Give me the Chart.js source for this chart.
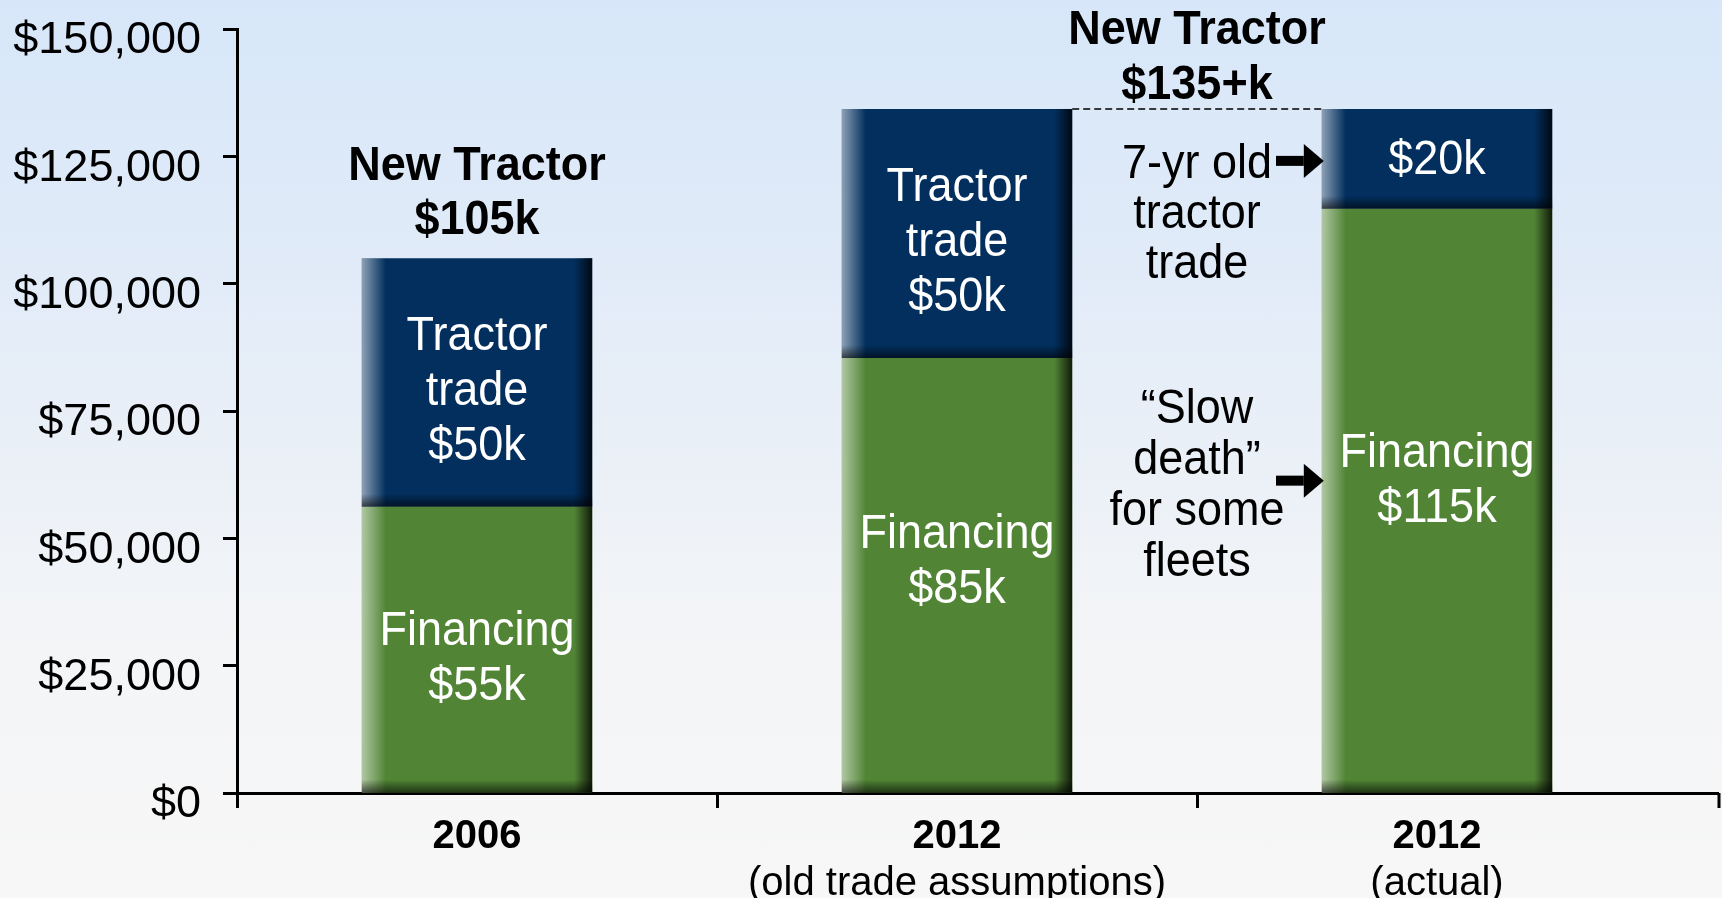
<!DOCTYPE html>
<html>
<head>
<meta charset="utf-8">
<script src="https://cdn.jsdelivr.net/npm/chart.js@4.4.1/dist/chart.umd.min.js"></script>
<style>
  html, body { margin: 0; padding: 0; }
  body {
    width: 1722px; height: 898px; overflow: hidden;
    background: linear-gradient(to bottom, #d7e7f9 0%, #e1ebf8 30%, #ecf1f7 55%, #f4f5f7 72%, #f7f7f7 100%);
  }
  canvas { display: block; }
</style>
</head>
<body>
<canvas id="chart" width="1722" height="898"></canvas>
<script>
// values (dollars)
const categories = ["2006", "2012", "2012"];
const subLabels = ["", "(old trade assumptions)", "(actual)"];
const financing = [56200, 85400, 114700];
const tractorTrade = [48800, 48900, 19600];

// text written on / around the bars
const financingText = [["Financing", "$55k"], ["Financing", "$85k"], ["Financing", "$115k"]];
const tradeText = [["Tractor", "trade", "$50k"], ["Tractor", "trade", "$50k"], ["$20k"]];
const oldTitle = ["New Tractor", "$105k"];
const newTitle = ["New Tractor", "$135+k"];
const oldTradeNote = ["7-yr old", "tractor", "trade"];
const slowDeathNote = ["\u201cSlow", "death\u201d", "for some", "fleets"];

const GREEN = "#518535";
const NAVY = "#022f5e";
const FAMILY = "'Liberation Sans', Arial, sans-serif";
Chart.defaults.font.family = FAMILY;

// slide text is a touch taller than it is wide, so stretch it a little
function drawLines(ctx, lines, x, cy, lh, font, color) {
  ctx.save();
  ctx.font = font;
  ctx.fillStyle = color;
  ctx.textAlign = "center";
  ctx.textBaseline = "middle";
  const y0 = cy - (lines.length - 1) * lh / 2 + 4;
  lines.forEach((t, i) => {
    ctx.save();
    ctx.translate(x, y0 + i * lh);
    ctx.scale(1, 1.07);
    ctx.fillText(t, 0, 0);
    ctx.restore();
  });
  ctx.restore();
}

function drawArrow(ctx, x0, x1, y) {
  ctx.save();
  ctx.fillStyle = "#000";
  ctx.fillRect(x0, y - 5, x1 - x0 - 20, 10);
  ctx.beginPath();
  ctx.moveTo(x1 - 20, y - 17);
  ctx.lineTo(x1, y);
  ctx.lineTo(x1 - 20, y + 17);
  ctx.closePath();
  ctx.fill();
  ctx.restore();
}

// soft 3d look on the bars: light left edge, dark right and bottom edges
const barShade = {
  id: "barShade",
  afterDatasetsDraw(chart) {
    const ctx = chart.ctx;
    chart.data.datasets.forEach((ds, i) => {
      chart.getDatasetMeta(i).data.forEach((bar) => {
        const l = bar.x - bar.width / 2;
        const r = bar.x + bar.width / 2;
        const top = Math.min(bar.y, bar.base);
        const bot = Math.max(bar.y, bar.base);
        const h = bot - top;
        ctx.save();
        let g = ctx.createLinearGradient(l, 0, l + 24, 0);
        g.addColorStop(0, "rgba(255,255,255,0.55)");
        g.addColorStop(1, "rgba(255,255,255,0)");
        ctx.fillStyle = g;
        ctx.fillRect(l, top, 24, h);
        g = ctx.createLinearGradient(r - 18, 0, r, 0);
        g.addColorStop(0, "rgba(0,0,0,0)");
        g.addColorStop(1, "rgba(0,0,0,0.8)");
        ctx.fillStyle = g;
        ctx.fillRect(r - 18, top, 18, h);
        g = ctx.createLinearGradient(0, bot - 13, 0, bot);
        g.addColorStop(0, "rgba(0,0,0,0)");
        g.addColorStop(1, "rgba(0,0,0,0.6)");
        ctx.fillStyle = g;
        ctx.fillRect(l, bot - 13, r - l, 13);
        ctx.restore();
      });
    });
  },
};

const notes = {
  id: "notes",
  afterDraw(chart) {
    const ctx = chart.ctx;
    const ca = chart.chartArea;
    const fin = chart.getDatasetMeta(0).data;
    const trd = chart.getDatasetMeta(1).data;
    const regular = "45px " + FAMILY;
    const bold = "bold 45px " + FAMILY;
    // where the text block sits inside each segment, as a share of its height from the top
    const finAt = [0.52, 0.46, 0.46];
    const trdAt = [0.52, 0.52, 0.48];

    // x axis runs on past the last category, like the original slide
    const endX = chart.width - 3;
    ctx.save();
    ctx.strokeStyle = "#000";
    ctx.lineWidth = 3;
    ctx.beginPath();
    ctx.moveTo(ca.right - 2, ca.bottom + 0.5);
    ctx.lineTo(endX, ca.bottom + 0.5);
    ctx.moveTo(endX, ca.bottom);
    ctx.lineTo(endX, ca.bottom + 15);
    ctx.stroke();
    ctx.restore();

    fin.forEach((b, i) => drawLines(ctx, financingText[i], b.x, b.y + finAt[i] * (b.base - b.y), 55, regular, "#fff"));
    trd.forEach((b, i) => drawLines(ctx, tradeText[i], b.x, b.y + trdAt[i] * (b.base - b.y), 55, regular, "#fff"));

    // 2006 total
    drawLines(ctx, oldTitle, trd[0].x, trd[0].y - 68, 54, bold, "#000");

    // 2012 total sits between the two 2012 bars
    const leftEdge = trd[1].x + trd[1].width / 2;
    const rightEdge = trd[2].x - trd[2].width / 2;
    const mid = (leftEdge + rightEdge) / 2;
    drawLines(ctx, newTitle, mid, trd[2].y - 55, 55, bold, "#000");

    ctx.save();
    ctx.strokeStyle = "#000";
    ctx.lineWidth = 1.5;
    ctx.setLineDash([7, 4]);
    ctx.beginPath();
    ctx.moveTo(leftEdge, trd[2].y);
    ctx.lineTo(rightEdge, trd[2].y);
    ctx.stroke();
    ctx.restore();

    const tradeY = (trd[2].y + trd[2].base) / 2 + 2;
    drawLines(ctx, oldTradeNote, mid, tradeY + 50, 50, regular, "#000");
    drawArrow(ctx, mid + 79, rightEdge + 2, tradeY);

    const finY = (fin[2].y + fin[2].base) / 2 - 20;
    drawLines(ctx, slowDeathNote, mid, finY + 2, 51, regular, "#000");
    drawArrow(ctx, mid + 79, rightEdge + 2, finY);
  },
};

new Chart(document.getElementById("chart"), {
  type: "bar",
  data: {
    labels: categories,
    datasets: [
      {
        label: "Financing",
        data: financing,
        backgroundColor: GREEN,
        borderWidth: 0,
        barPercentage: 0.48,
        categoryPercentage: 1,
      },
      {
        label: "Tractor trade",
        data: tractorTrade,
        backgroundColor: NAVY,
        borderWidth: 0,
        barPercentage: 0.48,
        categoryPercentage: 1,
      },
    ],
  },
  options: {
    responsive: false,
    animation: false,
    layout: { padding: { top: 29, right: 45, left: 0, bottom: 0 } },
    plugins: {
      legend: { display: false },
      tooltip: { enabled: false },
    },
    scales: {
      x: {
        stacked: true,
        weight: 0,
        grid: {
          drawOnChartArea: false,
          offset: true,
          tickLength: 15,
          tickWidth: 3,
          tickColor: (c) => (c.type === "tick" ? "#000" : "rgba(0,0,0,0)"),
        },
        border: { display: true, color: "#000", width: 3 },
        ticks: {
          color: "#000",
          font: { size: 40, weight: "bold", lineHeight: 1.1 },
          padding: 7,
          maxRotation: 0,
        },
        afterFit: (s) => { s.height = 63; },
      },
      x2: {
        type: "category",
        labels: subLabels,
        position: "bottom",
        weight: 1,
        grid: { display: false },
        border: { display: false },
        ticks: {
          color: "#000",
          font: { size: 40, lineHeight: 1.1 },
          padding: -2,
          maxRotation: 0,
        },
        afterFit: (s) => { s.height = 42; },
      },
      y: {
        stacked: true,
        min: 0,
        max: 150000,
        grid: { drawOnChartArea: false, tickLength: 14, tickWidth: 3, tickColor: "#000" },
        border: { display: true, color: "#000", width: 3 },
        ticks: {
          stepSize: 25000,
          color: "#000",
          font: { size: 45 },
          padding: 22,
          labelOffset: 12,
          callback: (v) => "$" + v.toLocaleString("en-US"),
        },
        afterFit: (s) => {
          s.width = 237;
          s.paddingTop = 0;
          s.paddingBottom = 0;
        },
      },
    },
  },
  plugins: [barShade, notes],
});
</script>
</body>
</html>
